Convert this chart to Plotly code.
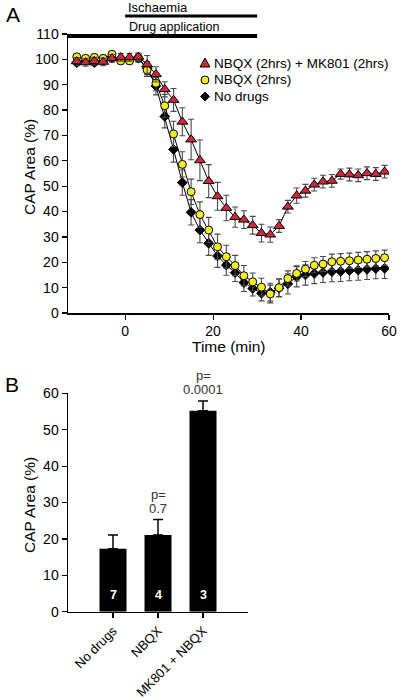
import plotly.graph_objects as go

# ---------------- Panel A data ----------------
time_min = [-11, -9, -7, -5, -3, -1, 1, 3, 5, 7, 9, 11, 13, 15, 17, 19, 21, 23,
            25, 27, 29, 31, 33, 35, 37, 39, 41, 43, 45, 47, 49, 51, 53, 55, 57, 59]

mk801_nbqx = [99.2, 98.8, 99.3, 99.0, 100.4, 100.8, 100.8, 101.0, 98.0, 94.1, 88.2, 84.0,
              75.4, 68.4, 60.2, 52.0, 46.0, 41.4, 37.8, 36.8, 34.6, 31.5, 30.9, 34.3,
              41.9, 46.3, 48.2, 50.6, 51.8, 52.1, 54.8, 54.6, 54.3, 55.1, 54.8, 55.7]
mk801_nbqx_err = [1.5, 1.5, 1.5, 1.5, 1.5, 1.5, 1.5, 1.5, 3.5, 3.0, 3.0, 4.5,
                  5.5, 8.0, 8.0, 6.5, 5.5, 5.0, 4.0, 3.5, 3.5, 3.5, 3.0, 2.5,
                  2.5, 3.0, 2.5, 2.5, 2.5, 2.5, 2.0, 2.5, 2.5, 2.5, 2.5, 2.5]

nbqx = [101.0, 100.4, 100.8, 100.4, 102.0, 99.4, 99.4, 100.6, 95.8, 90.6, 81.7, 70.6,
        58.6, 47.8, 38.8, 32.7, 26.1, 22.2, 18.7, 14.7, 12.3, 10.2, 7.5, 10.0,
        13.6, 15.6, 17.3, 18.8, 19.3, 20.2, 20.4, 20.6, 20.9, 21.2, 21.5, 21.8]
nbqx_err = [1.2, 1.2, 1.2, 1.2, 1.2, 1.2, 1.2, 1.5, 2.5, 3.0, 4.5, 5.0,
            5.0, 5.0, 5.0, 5.0, 5.0, 4.5, 4.0, 4.0, 3.5, 3.5, 3.5, 3.5,
            3.0, 3.0, 3.0, 3.0, 3.0, 3.0, 3.0, 3.0, 3.0, 3.0, 3.0, 3.0]

no_drugs = [98.7, 99.5, 98.7, 99.5, 100.5, 100.0, 100.0, 100.5, 96.5, 89.5, 77.5, 64.5,
            51.4, 39.7, 32.7, 27.5, 22.5, 18.9, 15.9, 12.0, 9.7, 7.8, 8.2, 9.8,
            11.5, 14.3, 15.0, 15.6, 16.0, 16.3, 16.4, 16.7, 16.9, 17.2, 17.5, 17.6]
no_drugs_err = [1.2, 1.2, 1.2, 1.2, 1.2, 1.2, 1.2, 1.5, 2.5, 3.5, 4.5, 5.0,
                5.0, 5.0, 5.0, 4.8, 4.5, 4.0, 3.5, 3.5, 3.0, 3.0, 3.5, 3.5,
                4.0, 4.0, 4.0, 4.0, 4.0, 4.0, 4.0, 4.0, 4.0, 4.0, 4.0, 4.0]

ischaemia_span = [0, 30]
drug_span = [-13, 30]

# ---------------- Panel B data ----------------
bar_categories = ["No drugs", "NBQX", "MK801 + NBQX"]
bar_values = [17.3, 21.1, 55.2]
bar_errors = [3.8, 4.2, 2.7]
bar_n = ["7", "4", "3"]
bar_p = ["", "0.7", "0.0001"]

W, H = 400, 699


def px_x(p):
    return p / W


def px_y(p):
    return 1 - p / H


fig = go.Figure()

err_col = "#4a4a4a"
RED, YELLOW, BLACK = "#d0283a", "#f4ee1c", "#000000"
series = [
    ("No drugs", no_drugs, no_drugs_err, "diamond", BLACK, 7.5),
    ("NBQX (2hrs)", nbqx, nbqx_err, "circle", YELLOW, 8),
    ("NBQX (2hrs) + MK801 (2hrs)", mk801_nbqx, mk801_nbqx_err, "triangle-up", RED, 9.5),
]
for name, vals, errs, sym, col, size in series:
    fig.add_trace(go.Scatter(
        x=time_min, y=vals, name=name, mode="lines+markers",
        line=dict(color="black", width=1),
        marker=dict(symbol=sym, color=col, size=size, line=dict(color="black", width=1)),
        error_y=dict(type="data", array=errs, visible=True, color=err_col, thickness=1.1, width=3),
        xaxis="x", yaxis="y", showlegend=False, hoverinfo="skip",
    ))

fig.add_trace(go.Bar(
    x=bar_categories, y=bar_values, width=0.6, marker=dict(color="black", line=dict(width=0)),
    error_y=dict(type="data", symmetric=False, array=bar_errors, arrayminus=[0] * len(bar_errors),
                 color="black", thickness=1.5, width=5),
    xaxis="x2", yaxis="y2", showlegend=False, hoverinfo="skip",
))

font_family = "Liberation Sans, Arial, sans-serif"
axis_common = dict(ticks="outside", ticklen=5, tickwidth=1.2, tickcolor="black",
                   showline=True, linecolor="black", linewidth=1.5, showgrid=False,
                   zeroline=False, automargin=False, tickfont=dict(size=14))

fig.update_layout(
    template="none",
    width=W, height=H,
    margin=dict(l=0, r=0, t=0, b=0, pad=0),
    paper_bgcolor="white", plot_bgcolor="white",
    font=dict(family=font_family, color="black", size=14),
    showlegend=False, hovermode=False,
    xaxis=dict(domain=[px_x(68), px_x(389)], range=[-13, 60], anchor="y",
               tickvals=[0, 20, 40, 60], **axis_common),
    yaxis=dict(domain=[px_y(313), px_y(34)], range=[0, 110], anchor="x",
               tickvals=list(range(0, 111, 10)), **axis_common),
    xaxis2=dict(domain=[px_x(68), px_x(248)], range=[-1, 3], anchor="y2",
                tickangle=-45, **{**axis_common, "tickfont": dict(size=13)}),
    yaxis2=dict(domain=[px_y(611.7), px_y(393.3)], range=[0, 60], anchor="x2",
                tickvals=list(range(0, 61, 10)), **axis_common),
)

shapes = [
    dict(type="line", xref="x", yref="paper", x0=ischaemia_span[0], x1=ischaemia_span[1],
         y0=px_y(16), y1=px_y(16), line=dict(color="black", width=3)),
    dict(type="line", xref="x", yref="paper", x0=drug_span[0], x1=drug_span[1],
         y0=px_y(36), y1=px_y(36), line=dict(color="black", width=4)),
]

# custom legend (symbols drawn in pixel units, anchored in paper space)
legend_rows = [
    ("NBQX (2hrs) + MK801 (2hrs)", "M-5,-4 L5,-4 L0,5 Z", RED, 63),
    ("NBQX (2hrs)", None, YELLOW, 80),
    ("No drugs", "M0,-4.5 L4.5,0 L0,4.5 L-4.5,0 Z", BLACK, 96.5),
]
annotations = []
for label, path, col, ypx in legend_rows:
    if path is None:
        shapes.append(dict(type="circle", xref="paper", yref="paper",
                           xsizemode="pixel", ysizemode="pixel",
                           xanchor=px_x(205), yanchor=px_y(ypx),
                           x0=-4, x1=4, y0=-4, y1=4,
                           fillcolor=col, line=dict(color="black", width=1)))
    else:
        shapes.append(dict(type="path", xref="paper", yref="paper",
                           xsizemode="pixel", ysizemode="pixel",
                           xanchor=px_x(205), yanchor=px_y(ypx), path=path,
                           fillcolor=col, line=dict(color="black", width=1)))
    annotations.append(dict(text=label, xref="paper", yref="paper", x=px_x(212), y=px_y(ypx),
                            xanchor="left", yanchor="middle", showarrow=False,
                            font=dict(size=13.5)))
fig.update_layout(shapes=shapes)

annotations += [
    dict(text="Ischaemia", xref="x", yref="paper", x=ischaemia_span[0], y=px_y(8),
         xanchor="left", yanchor="middle", showarrow=False, font=dict(size=13), xshift=1),
    dict(text="Drug application", xref="x", yref="paper", x=ischaemia_span[0], y=px_y(27),
         xanchor="left", yanchor="middle", showarrow=False, font=dict(size=12.5), xshift=2),
    dict(text="A", xref="paper", yref="paper", x=px_x(13), y=px_y(15), xanchor="center",
         yanchor="middle", showarrow=False, font=dict(size=21)),
    dict(text="B", xref="paper", yref="paper", x=px_x(12), y=px_y(384), xanchor="center",
         yanchor="middle", showarrow=False, font=dict(size=21)),
    # axis titles
    dict(text="Time (min)", xref="paper", yref="paper", x=px_x(228.5), y=px_y(346.5),
         xanchor="center", yanchor="middle", showarrow=False, font=dict(size=15.5)),
    dict(text="CAP Area (%)", xref="paper", yref="paper", x=px_x(29), y=px_y(167),
         xanchor="center", yanchor="middle", textangle=-90, showarrow=False,
         font=dict(size=15.5)),
    dict(text="CAP Area (%)", xref="paper", yref="paper", x=px_x(29), y=px_y(505),
         xanchor="center", yanchor="middle", textangle=-90, showarrow=False,
         font=dict(size=15.5)),
]
for cat, val, err, n, p in zip(bar_categories, bar_values, bar_errors, bar_n, bar_p):
    annotations.append(dict(text="<b>%s</b>" % n, xref="x2", yref="y2", x=cat, y=0,
                            yshift=17, yanchor="middle", showarrow=False,
                            font=dict(size=12.5, color="white")))
    if p:
        annotations.append(dict(text=p, xref="x2", yref="y2", x=cat, y=val + err,
                                yanchor="bottom", yshift=2, showarrow=False,
                                font=dict(size=13, color="#333333")))
        annotations.append(dict(text="p=", xref="x2", yref="y2", x=cat, y=val + err,
                                yanchor="bottom", yshift=16, showarrow=False,
                                font=dict(size=13, color="#333333")))
fig.update_layout(annotations=annotations)

fig.write_html("out.html", config={"displayModeBar": False, "staticPlot": True},
               post_script="document.body.style.margin='0px';document.body.style.overflow='hidden';")
